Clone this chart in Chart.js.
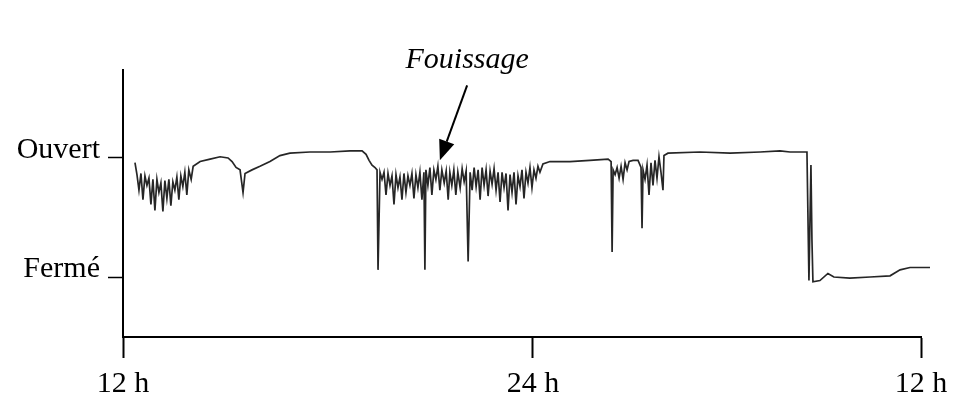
<!DOCTYPE html>
<html lang="fr">
<head>
    <meta charset="UTF-8">
    <title>Fouissage</title>
    <script src="https://cdn.jsdelivr.net/npm/chart.js"></script>
    <style>
        body {
            margin: 0;
            padding: 0;
            background: #fff;
        }
        .wrap {
            width: 971px;
            height: 401px;
        }
    </style>
</head>
<body>
    <div class="wrap">
        <canvas id="trace"></canvas>
    </div>
    <script>
        // time axis: hours after 12 h, opening: 0 = Fermé, 1 = Ouvert
        const hourTicks = [0, 12.33, 24];
        const hourLabels = ['12 h', '24 h', '12 h'];
        const levelTicks = [0, 1];
        const levelLabels = ['Fermé', 'Ouvert'];

        const hours = [
            0.36, 0.42, 0.48, 0.54, 0.60, 0.66, 0.72, 0.78, 0.84, 0.90,
            0.96, 1.02, 1.08, 1.14, 1.20, 1.26, 1.32, 1.38, 1.44, 1.50,
            1.56, 1.62, 1.68, 1.74, 1.80, 1.86, 1.92, 1.98, 2.05, 2.11,
            2.32, 2.62, 2.92, 3.16, 3.28, 3.40, 3.52, 3.61, 3.67, 3.88,
            4.12, 4.42, 4.72, 5.02, 5.62, 6.23, 6.83, 7.19, 7.31, 7.40,
            7.49, 7.58, 7.64, 7.67, 7.73,
            7.79, 7.85, 7.91, 7.97, 8.03, 8.09, 8.15, 8.21, 8.27, 8.33,
            8.39, 8.45, 8.51, 8.57, 8.63, 8.69, 8.75, 8.81, 8.87, 8.93,
            8.99, 9.05, 9.08, 9.11, 9.17, 9.23, 9.29, 9.35, 9.41, 9.47,
            9.53, 9.59, 9.66, 9.72, 9.78, 9.83, 9.89, 9.95, 10.01, 10.07,
            10.14, 10.20, 10.26, 10.32, 10.38, 10.44, 10.50, 10.56, 10.62, 10.68,
            10.74, 10.80, 10.86, 10.92, 10.98, 11.04, 11.10, 11.16, 11.22, 11.28,
            11.34, 11.40, 11.46, 11.52, 11.58, 11.64, 11.70, 11.76, 11.82, 11.88,
            11.94, 12.00, 12.06, 12.12, 12.18, 12.24, 12.30, 12.36, 12.42, 12.48,
            12.54, 12.63,
            12.84, 13.44, 14.04, 14.59, 14.68, 14.71, 14.74, 14.80, 14.86, 14.92,
            14.98, 15.04, 15.10, 15.16, 15.22, 15.34, 15.49, 15.58, 15.61, 15.64,
            15.70, 15.76, 15.82, 15.88, 15.94, 16.00, 16.06, 16.12, 16.18, 16.24,
            16.27, 16.39, 17.35, 18.26, 19.16, 19.76, 20.06, 20.57, 20.63, 20.69,
            20.72, 20.75, 20.96, 21.20, 21.38, 21.86, 22.47, 23.07, 23.37, 23.67,
            24.27, 24.57
        ];
        const opening = [
            0.96, 0.86, 0.73, 0.87, 0.65, 0.85, 0.77, 0.83, 0.61, 0.82,
            0.56, 0.82, 0.71, 0.79, 0.55, 0.81, 0.66, 0.82, 0.60, 0.80,
            0.73, 0.84, 0.65, 0.85, 0.76, 0.88, 0.69, 0.90, 0.82, 0.93,
            0.97, 0.99, 1.01, 1.00, 0.97, 0.92, 0.90, 0.71, 0.87, 0.90,
            0.93, 0.97, 1.02, 1.04, 1.05, 1.05, 1.06, 1.06, 1.03, 0.98,
            0.94, 0.92, 0.90, 0.06, 0.88,
            0.82, 0.88, 0.69, 0.87, 0.77, 0.85, 0.61, 0.86, 0.75, 0.84,
            0.65, 0.87, 0.71, 0.85, 0.77, 0.87, 0.66, 0.86, 0.75, 0.88,
            0.65, 0.88, 0.06, 0.90, 0.77, 0.92, 0.69, 0.90, 0.82, 0.93,
            0.73, 0.90, 0.79, 0.89, 0.65, 0.88, 0.77, 0.90, 0.69, 0.88,
            0.75, 0.91, 0.80, 0.89, 0.13, 0.88, 0.73, 0.92, 0.76, 0.90,
            0.65, 0.92, 0.77, 0.90, 0.68, 0.89, 0.78, 0.91, 0.73, 0.88,
            0.63, 0.88, 0.75, 0.87, 0.56, 0.86, 0.71, 0.88, 0.61, 0.85,
            0.76, 0.90, 0.66, 0.88, 0.79, 0.92, 0.75, 0.90, 0.83, 0.93,
            0.88, 0.95,
            0.97, 0.97, 0.98, 0.99, 0.97, 0.21, 0.90, 0.86, 0.92, 0.83,
            0.93, 0.82, 0.96, 0.90, 0.97, 0.98, 0.98, 0.92, 0.41, 0.90,
            0.82, 0.94, 0.69, 0.96, 0.77, 0.98, 0.83, 1.01, 0.88, 0.73,
            1.02, 1.04, 1.05, 1.04, 1.05, 1.06, 1.05, 1.05, -0.03, 0.94,
            0.31, -0.04, -0.03, 0.03, 0.00, -0.01, 0.00, 0.01, 0.06, 0.08,
            0.08, 0.08
        ];

        const serif = "'Liberation Serif', 'Times New Roman', serif";

        // "Fouissage" label with its arrow, placed in data units
        const fouissagePlugin = {
            id: 'fouissage',
            afterDraw(chart) {
                const xs = chart.scales.x;
                const ys = chart.scales.y;
                const ctx = chart.ctx;
                const tx = xs.getPixelForValue(10.35);
                const ty = ys.getPixelForValue(1.756);
                const ax = xs.getPixelForValue(10.35);
                const ay = ys.getPixelForValue(1.61);
                const bx = xs.getPixelForValue(9.53);
                const by = ys.getPixelForValue(0.98);

                ctx.save();
                ctx.fillStyle = '#000';
                ctx.font = 'italic 30px ' + serif;
                ctx.textAlign = 'center';
                ctx.textBaseline = 'alphabetic';
                ctx.fillText('Fouissage', tx, ty);

                const ang = Math.atan2(by - ay, bx - ax);
                const headLen = 20, headHalf = 8;
                const baseX = bx - headLen * Math.cos(ang);
                const baseY = by - headLen * Math.sin(ang);
                ctx.strokeStyle = '#000';
                ctx.lineWidth = 2;
                ctx.beginPath();
                ctx.moveTo(ax, ay);
                ctx.lineTo(baseX, baseY);
                ctx.stroke();
                ctx.beginPath();
                ctx.moveTo(bx, by);
                ctx.lineTo(baseX + headHalf * Math.sin(ang), baseY - headHalf * Math.cos(ang));
                ctx.lineTo(baseX - headHalf * Math.sin(ang), baseY + headHalf * Math.cos(ang));
                ctx.closePath();
                ctx.fill();
                ctx.restore();
            }
        };

        new Chart(document.getElementById('trace'), {
            type: 'line',
            data: {
                datasets: [{
                    data: hours.map((h, i) => ({ x: h, y: opening[i] })),
                    borderColor: '#262626',
                    borderWidth: 1.7,
                    pointRadius: 0,
                    tension: 0,
                    clip: false
                }]
            },
            options: {
                responsive: true,
                maintainAspectRatio: false,
                animation: false,
                layout: {
                    padding: { top: 70, right: 50, left: 0, bottom: 0 }
                },
                plugins: {
                    legend: { display: false },
                    tooltip: { enabled: false }
                },
                scales: {
                    x: {
                        type: 'linear',
                        min: 0,
                        max: 24,
                        border: { color: '#000', width: 2 },
                        grid: {
                            drawOnChartArea: false,
                            tickLength: 21,
                            tickColor: '#000',
                            tickWidth: 2
                        },
                        afterBuildTicks: (scale) => {
                            scale.ticks = hourTicks.map(v => ({ value: v }));
                        },
                        afterFit: (scale) => { scale.height = 64; },
                        ticks: {
                            autoSkip: false,
                            maxRotation: 0,
                            padding: 8,
                            color: '#000',
                            font: { family: serif, size: 30 },
                            callback: (value, index) => hourLabels[index]
                        }
                    },
                    y: {
                        min: -0.504,
                        max: 1.739,
                        border: { color: '#000', width: 2 },
                        grid: {
                            drawOnChartArea: false,
                            tickLength: 15,
                            tickColor: '#000',
                            tickWidth: 1.5
                        },
                        afterBuildTicks: (scale) => {
                            scale.ticks = levelTicks.map(v => ({ value: v }));
                        },
                        afterFit: (scale) => { scale.width = 123; },
                        ticks: {
                            padding: 8,
                            labelOffset: -8,
                            color: '#000',
                            font: { family: serif, size: 30 },
                            callback: (value, index) => levelLabels[index]
                        }
                    }
                }
            },
            plugins: [fouissagePlugin]
        });
    </script>
</body>
</html>
